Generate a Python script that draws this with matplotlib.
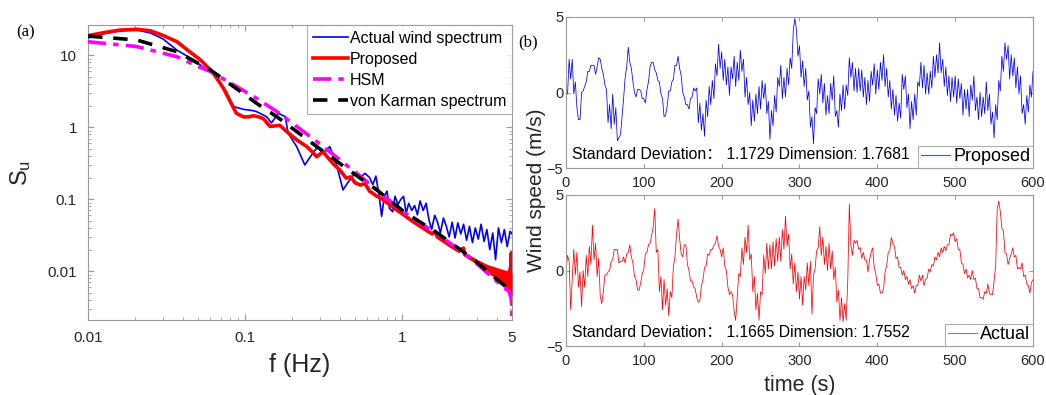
import numpy as np
import matplotlib
matplotlib.use("Agg")
import matplotlib.pyplot as plt

plt.rcParams['font.family'] = ['Liberation Sans', 'Noto Sans CJK SC', 'DejaVu Sans']
plt.rcParams['mathtext.default'] = 'regular'

# ---------------- (a) spectra ----------------
actual_f = [0.010, 0.012, 0.015, 0.018, 0.021, 0.025, 0.030, 0.0367, 0.0469, 0.057, 0.063,
            0.0764, 0.0845, 0.0976, 0.112, 0.118, 0.137, 0.147, 0.163, 0.180, 0.188, 0.213,
            0.240, 0.260, 0.290, 0.313, 0.346, 0.380, 0.420, 0.450, 0.500, 0.540, 0.580,
            0.62, 0.65, 0.68, 0.71, 0.74, 0.77, 0.80, 0.83, 0.87, 0.90, 0.94, 0.98, 1.02,
            1.06, 1.10, 1.15, 1.20, 1.25, 1.30, 1.36, 1.42, 1.48, 1.54, 1.61, 1.68, 1.75,
            1.83, 1.91, 1.99, 2.08, 2.17, 2.26, 2.36, 2.46, 2.57, 2.68, 2.80, 2.92, 3.05,
            3.18, 3.32, 3.46, 3.61, 3.77, 3.93, 4.10, 4.28, 4.47, 4.66, 4.86, 5.0]
actual_S = [17.5, 19.5, 21.5, 22.3, 22.3, 20.5, 17.0, 11.9, 8.7, 6.3, 5.6,
            3.0, 1.95, 1.78, 1.71, 1.66, 1.41, 1.15, 1.57, 1.41, 0.83, 0.54,
            0.30, 0.39, 0.54, 0.44, 0.54, 0.316, 0.135, 0.17, 0.23, 0.20, 0.23,
            0.20, 0.16, 0.21, 0.12, 0.058, 0.11, 0.13, 0.075, 0.067, 0.11, 0.085, 0.10, 0.11,
            0.064, 0.088, 0.070, 0.082, 0.061, 0.095, 0.070, 0.088, 0.052, 0.038, 0.060, 0.048, 0.034,
            0.055, 0.042, 0.030, 0.048, 0.029, 0.047, 0.033, 0.045, 0.027, 0.042, 0.025, 0.040, 0.028,
            0.045, 0.026, 0.038, 0.020, 0.034, 0.0145, 0.040, 0.025, 0.038, 0.022, 0.036, 0.033]

proposed_f = [0.0100, 0.0106, 0.013, 0.016, 0.0204, 0.025, 0.030, 0.0367, 0.045, 0.052, 0.060,
              0.063, 0.0728, 0.0803, 0.088, 0.0976, 0.105, 0.113, 0.122, 0.131, 0.144, 0.155,
              0.166, 0.184, 0.20, 0.213, 0.23, 0.247, 0.27, 0.286, 0.313, 0.33, 0.346, 0.37,
              0.40, 0.44, 0.47, 0.50, 0.54, 0.58, 0.62, 0.69, 0.73, 0.84, 0.93, 1.02, 1.17,
              1.35, 1.55, 1.62, 1.67, 2.0, 2.3, 2.45, 2.5, 3.0, 3.5, 4.0, 4.4, 4.8, 4.92,
              4.95, 4.97, 5.0]
proposed_S = [18.8, 19.3, 21.0, 22.5, 23.1, 22.0, 19.0, 15.6, 11.0, 8.66, 6.3,
              5.6, 3.5, 2.3, 1.57, 1.40, 1.40, 1.45, 1.40, 1.32, 1.03, 1.05,
              1.07, 0.875, 0.75, 0.67, 0.60, 0.54, 0.45, 0.39, 0.46, 0.40, 0.355, 0.30,
              0.257, 0.197, 0.205, 0.17, 0.158, 0.165, 0.13, 0.11, 0.104, 0.083, 0.07, 0.061, 0.049,
              0.040, 0.033, 0.036, 0.030, 0.023, 0.019, 0.021, 0.017, 0.0135, 0.0115, 0.0105, 0.0098, 0.0094, 0.012,
              0.018, 0.005, 0.0035]
band_f = [2.5, 3.0, 3.5, 4.0, 4.4, 4.8, 5.0]
band_lo = [0.0160, 0.0125, 0.0095, 0.0078, 0.0062, 0.0052, 0.0045]
band_hi = [0.0180, 0.0145, 0.0120, 0.0110, 0.0102, 0.0098, 0.0095]

hsm_f = [0.010, 0.0204, 0.0367, 0.052, 0.060, 0.0845, 0.118, 0.159, 0.213, 0.286, 0.40,
         0.54, 0.69, 1.02, 1.67, 2.7, 4.4, 4.8, 4.95, 5.0]
hsm_S = [15.5, 13.3, 9.6, 6.8, 6.0, 3.9, 2.54, 1.66, 1.03, 0.635, 0.355,
         0.21, 0.135, 0.066, 0.033, 0.0155, 0.006, 0.0052, 0.004, 0.0023]

vk_f = [0.010, 0.0204, 0.0367, 0.060, 0.0845, 0.118, 0.159, 0.213, 0.286, 0.40, 0.54,
        0.69, 1.02, 1.67, 2.7, 4.4, 4.9]
vk_S = [18.6, 16.4, 11.3, 6.3, 3.69, 2.17, 1.41, 0.875, 0.54, 0.316, 0.197,
        0.135, 0.068, 0.034, 0.016, 0.0065, 0.0055]

spec_xticks = [0.01, 0.1, 1, 5]
spec_xticklabels = ['0.01', '0.1', '1', '5']
spec_yticks = [0.01, 0.1, 1, 10]
spec_yticklabels = ['0.01', '0.1', '1', '10']

# ---------------- (b) time series (one value every 2 s) ----------------
time_s = np.arange(0, 601, 2)
proposed_ws = [
    -0.1, -0.1, 2.2, 0.9, 2.2, -0.1, 0.7, -1.0, -1.8, -1.8,
    0.0, 0.1, 0.4, 0.7, 1.4, 1.4, 1.8, 1.8, 1.8, 1.2,
    1.7, 2.3, 2.2, 1.6, 1.2, 0.5, 0.2, -2.0, -0.8, -2.4,
    -0.1, -2.1, -1.0, -3.2, -3.0, -2.8, -1.6, -0.4, 1.0, 1.7,
    3.0, 2.0, 1.6, 0.7, 0.0, -0.3, 0.2, 0.2, 0.1, -0.4,
    -0.4, -0.7, 0.2, 0.7, 1.7, 2.0, 2.0, 1.5, 1.3, 0.8,
    0.7, -0.1, -0.4, -1.6, -1.5, -0.9, 0.1, 0.1, 0.7, 0.9,
    1.8, 1.8, 2.4, 1.6, 1.1, 0.0, -0.3, -0.8, -0.8, -1.1,
    -0.4, -0.3, 0.3, 0.1, 0.3, -2.0, -0.7, -2.5, -1.4, -2.9,
    -0.5, -1.6, 0.4, -0.8, 0.8, -0.4, 1.9, 1.1, 3.2, 1.6,
    2.7, 0.8, 2.2, 0.5, 1.7, -0.2, 1.7, 0.9, 2.4, 0.4,
    2.0, 0.8, 2.8, 1.4, 2.2, -0.3, 1.0, -0.8, 0.0, -2.2,
    -0.5, -1.9, -0.1, -1.4, 0.4, -1.1, 0.8, -0.4, 0.6, -1.4,
    -0.6, -3.1, -1.2, -2.2, -0.2, -1.3, 1.0, 0.4, 1.8, -0.4,
    1.0, -0.3, 1.6, 0.5, 2.3, 1.6, 4.1, 4.9, 4.2, 2.4,
    3.1, 1.0, 2.1, 0.4, 1.6, -0.5, 0.1, -2.3, -1.6, -3.4,
    -1.0, -1.4, 0.9, -0.1, 1.2, -0.7, 0.6, -1.5, -0.2, -1.4,
    0.6, -0.5, 1.1, -1.6, -1.2, -2.3, -0.1, -1.2, 0.5, -1.1,
    0.5, -0.2, 2.3, 1.0, 2.0, 0.1, 1.6, 0.0, 1.6, 0.1,
    1.5, -0.3, 1.0, -0.8, 0.8, -0.6, 1.4, 0.5, 1.9, -0.1,
    1.5, 0.2, 2.0, 0.8, 2.5, 0.4, 1.6, -0.3, 0.8, -1.1,
    0.2, -1.5, -0.2, -1.9, -0.7, -1.7, 1.2, 0.2, 1.1, -1.0,
    -0.1, -2.4, -0.6, -1.8, -0.1, -1.5, 0.7, 0.4, 2.0, 0.3,
    1.8, -0.1, 1.3, -0.1, 1.4, 0.3, 2.4, 1.0, 2.5, 1.3,
    3.3, 1.3, 2.2, 0.4, 1.7, -0.2, 1.1, -0.6, 1.0, -0.3,
    1.1, -0.7, 0.9, -0.4, 0.6, -1.5, 0.2, -1.1, 0.2, -1.6,
    0.5, -0.5, 1.1, -1.2, -0.3, -1.8, 0.0, -1.6, -0.3, -1.4,
    0.7, -1.2, -0.1, -2.1, -1.3, -3.0, -0.8, -1.8, 0.8, 0.1,
    2.4, 1.4, 3.3, 2.2, 3.1, 0.9, 2.5, 1.1, 2.3, 0.3,
    1.7, -0.1, 1.1, -1.4, -0.8, -2.1, -0.2, -1.3, 0.5, -0.3,
    1.4]
actual_ws = [
    0.0, 1.0, 0.6, -2.6, -0.6, 1.4, -0.3, 1.2, -1.1, -0.1,
    -2.4, 0.0, -1.1, 1.0, -0.4, 1.6, 0.4, 3.0, 0.7, 1.8,
    -0.4, 0.8, -1.7, -2.2, -1.4, -0.3, -0.3, -0.1, 0.0, 0.6,
    0.7, 1.4, 1.4, 1.4, 0.5, 0.6, 0.6, 0.9, 0.5, 1.1,
    1.2, 1.7, 0.9, 0.5, -0.4, -0.6, -1.3, -1.3, -0.8, -0.2,
    0.1, 1.1, 1.2, 1.7, 1.8, 2.3, 2.9, 4.1, 1.2, 1.4,
    -1.4, -0.4, -2.6, -0.6, -2.3, -1.2, -3.0, -1.4, -1.8, 0.3,
    0.9, 2.4, 3.4, 2.1, 1.1, 0.9, 1.7, 1.7, 0.4, 0.0,
    -0.7, -0.7, -1.1, -1.2, -1.8, -2.1, -2.0, -1.0, -0.6, 0.2,
    0.3, 1.1, 1.0, 1.4, 1.4, 1.7, 1.8, 2.3, 1.6, 1.4,
    0.9, 1.5, 0.3, 0.0, -1.1, -1.6, -1.4, -1.6, -2.7, -3.3,
    -1.7, -0.2, -0.4, 1.5, 0.4, 2.2, 1.2, 3.0, 0.7, 1.1,
    -1.4, -0.4, -2.6, -1.5, -3.3, -1.4, -1.6, 1.0, -0.2, 1.8,
    0.1, 1.7, 0.1, 1.9, 0.3, 2.1, 0.6, 2.2, 0.6, 2.7,
    1.4, 3.6, 1.6, 2.4, 0.1, 1.1, -0.9, 0.5, -1.4, -0.1,
    -1.9, -0.4, -2.3, -0.4, -1.3, 0.5, -1.0, 0.6, -2.9, -0.3,
    0.1, 1.3, 1.5, 2.9, 1.0, 2.2, 0.4, 1.6, 0.0, 1.8,
    0.1, 1.3, -0.6, 0.2, -2.1, -1.3, -3.3, -1.8, -3.4, -2.2,
    -3.3, -0.7, 4.4, 1.7, 1.0, 2.0, 1.8, 2.0, 1.4, 1.5,
    0.8, 1.2, 0.7, 0.7, -0.1, 0.7, 1.2, 1.5, 0.2, -0.2,
    -1.0, -0.9, -1.5, -1.5, -1.2, -0.1, 0.3, 1.2, 1.3, 2.2,
    1.8, 1.6, 0.8, 0.9, 0.2, 0.2, -0.3, 0.0, -0.6, -0.4,
    -0.9, -0.6, -1.2, -1.0, -1.5, -1.0, -1.0, -0.3, -0.7, -0.3,
    -1.0, -0.6, -0.5, 0.1, -0.1, 0.4, 0.3, 0.9, 0.7, 1.2,
    0.9, 1.5, 1.2, 1.6, 1.3, 1.7, 1.7, 2.4, 2.3, 2.5,
    1.9, 2.1, 1.4, 1.4, 0.5, 0.4, -0.2, 0.1, -0.5, -0.3,
    -0.6, 0.0, -0.6, -0.5, -1.2, -1.2, -1.8, -1.8, -1.9, -1.4,
    -1.5, -0.9, -1.5, -1.6, -1.6, -0.7, 0.3, 4.1, 4.6, 3.9,
    2.8, 2.6, 1.2, 1.1, 0.4, 0.8, 1.1, 1.5, 0.9, 1.0,
    0.1, 0.2, 0.1, 0.5, -0.4, -0.3, -0.9, -1.0, -1.5, -0.8,
    -0.6]
ts_xticks = [0, 100, 200, 300, 400, 500, 600]
ts_yticks = [-5, 0, 5]
proposed_text = 'Standard Deviation\uff1a 1.1729 Dimension: 1.7681'
actual_text = 'Standard Deviation\uff1a 1.1665 Dimension: 1.7552'

# ---------------- figure ----------------
W, H = 1046, 395
fig = plt.figure(figsize=(W / 100, H / 100), dpi=100)

spine_c = '#9a9a9a'
lab_c = '#262626'

def frac(x0, y0, x1, y1):
    return [x0 / W, 1 - y1 / H, (x1 - x0) / W, (y1 - y0) / H]

def style(ax, fs):
    for s in ax.spines.values():
        s.set_color(spine_c)
        s.set_linewidth(0.8)
    ax.tick_params(which='both', direction='in', top=True, right=True,
                   color=spine_c, labelcolor=lab_c, labelsize=fs)

ax1 = fig.add_axes(frac(88, 25, 512, 320))
ax1.set_xscale('log')
ax1.set_yscale('log')
ax1.plot(actual_f, actual_S, color='#0000ff', lw=1.2, label='Actual wind spectrum', zorder=3)
ax1.fill_between(band_f, band_lo, band_hi, color='#ff0000', lw=0, zorder=3.5)
ax1.plot(proposed_f, proposed_S, color='#ff0000', lw=2.6, label='Proposed', zorder=4)
ax1.plot(hsm_f, hsm_S, color='#ff00ff', lw=2.6, ls=(0, (5, 2, 1.5, 2)), label='HSM', zorder=5)
ax1.plot(vk_f, vk_S, color='black', lw=2.6, ls=(0, (4, 3)), label='von Karman spectrum', zorder=6)
ax1.set_xlim(0.01, 5)
ax1.set_ylim(0.0021, 26.5)
style(ax1, 11)
ax1.set_xticks(spec_xticks)
ax1.set_xticklabels(spec_xticklabels)
ax1.set_yticks(spec_yticks)
ax1.set_yticklabels(spec_yticklabels)
ax1.tick_params(which='major', length=4, pad=8)
ax1.tick_params(which='minor', length=2)
ax1.set_xlabel('f (Hz)', fontsize=18, color=lab_c, labelpad=6)
ax1.set_ylabel('$S_u$', fontsize=17, color=lab_c, labelpad=10)
leg = ax1.legend(loc='upper right', fontsize=11.5, frameon=True, fancybox=False,
                 borderaxespad=0, handlelength=2.2, handletextpad=0.15,
                 labelspacing=0.38, borderpad=0.35)
leg.get_frame().set_edgecolor(spine_c)
leg.get_frame().set_linewidth(0.8)
fig.text(26 / W, 1 - 32 / H, '(a)', fontsize=12, family='Liberation Serif',
         ha='center', va='center', color='black')

ax2 = fig.add_axes(frac(566, 17, 1033, 168))
ax3 = fig.add_axes(frac(566, 195, 1033, 346))
for ax, data, col, lab, txt in [(ax2, proposed_ws, '#0000ff', 'Proposed', proposed_text),
                                (ax3, actual_ws, '#ff0000', 'Actual', actual_text)]:
    ax.plot(time_s, data, color=col, lw=0.55, label=lab)
    ax.set_xlim(0, 600)
    ax.set_ylim(-5, 5)
    ax.set_xticks(ts_xticks)
    ax.set_yticks(ts_yticks)
    style(ax, 10.5)
    ax.tick_params(length=3)
    ax.tick_params(axis='x', pad=6)
    ax.tick_params(axis='y', pad=2)
    ax.text(0.013, 0.09, txt, transform=ax.transAxes, fontsize=11.3, color='black',
            ha='left', va='center',
            family=['Liberation Sans', 'Noto Sans CJK SC'])
    lg = ax.legend(loc='lower right', fontsize=13, frameon=True, fancybox=False,
                   borderaxespad=0, handlelength=1.6, handletextpad=0.2,
                   borderpad=0.15)
    lg.get_frame().set_edgecolor(spine_c)
    lg.get_frame().set_linewidth(0.8)
    for h in lg.get_lines():
        h.set_linewidth(0.8)
        h.set_alpha(0.7)

ax3.set_xlabel('time (s)', fontsize=15.5, color=lab_c, labelpad=5)
fig.text(536 / W, 1 - 190 / H, 'Wind speed (m/s)', rotation=90, fontsize=15,
         color=lab_c, ha='center', va='center')
fig.text(528 / W, 1 - 42 / H, '(b)', fontsize=12, family='Liberation Serif',
         ha='center', va='center', color='black')

fig.savefig('out.png', dpi=100)
